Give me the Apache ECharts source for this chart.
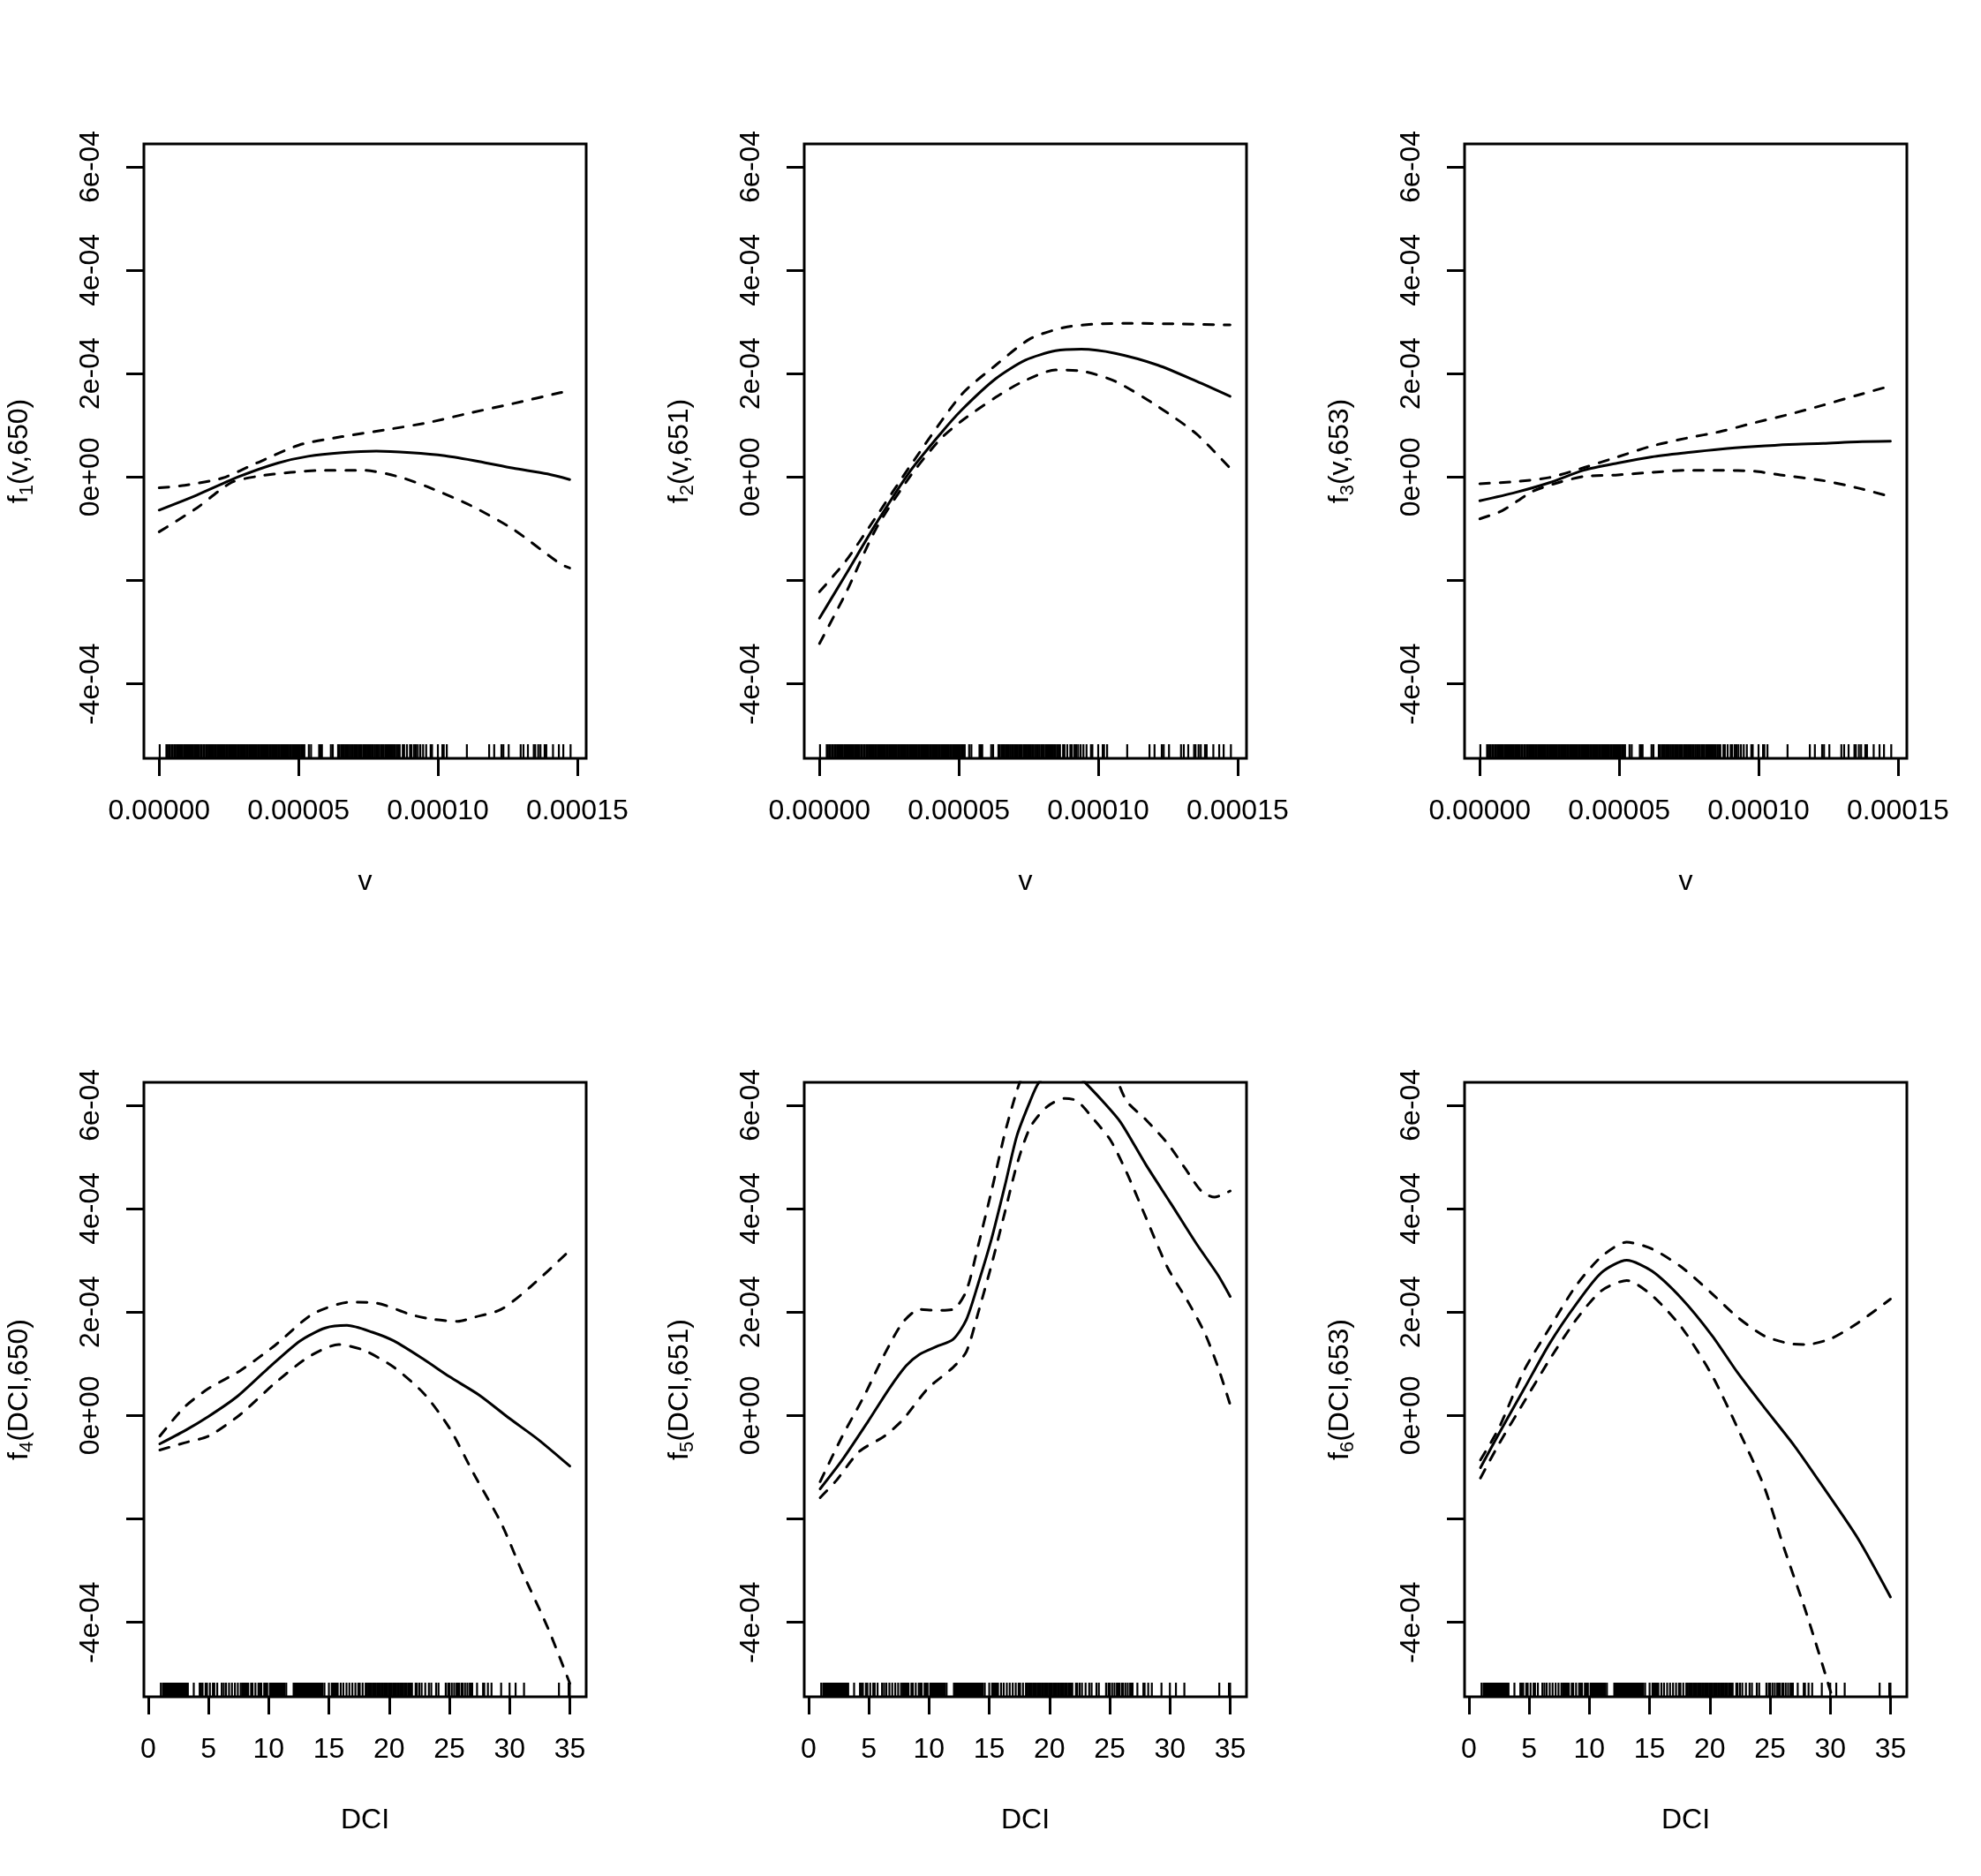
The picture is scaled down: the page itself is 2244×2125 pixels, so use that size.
<!DOCTYPE html>
<html>
<head>
<meta charset="utf-8">
<script src="https://cdn.jsdelivr.net/npm/echarts@6/dist/echarts.min.js"></script>
<style>
html,body{margin:0;padding:0;background:#fff;}
#main{width:2244px;height:2125px;}
</style>
</head>
<body>
<div id="main"></div>
<script>
// axis settings
var Y_MIN = -5.44e-4, Y_MAX = 6.44e-4;
var yTicks = [-4e-4, -2e-4, 0, 2e-4, 4e-4, 6e-4];
var yLabels = [-4e-4, 0, 2e-4, 4e-4, 6e-4];
var vTicks = [0, 5e-5, 1e-4, 1.5e-4];
var dciTicks = [0, 5, 10, 15, 20, 25, 30, 35];
var vRange = [-5.47e-6, 1.532e-4];
var dciRange = [-0.36, 36.36];

// rug of observed v (units of 1e-6)
var vRug = [0.2,
  2.6,3.0,3.5,3.9,4.5,4.8,5.4,5.7,6.3,6.6,7.2,7.5,8.1,8.4,9.0,9.4,9.9,10.4,10.8,11.3,11.7,12.2,12.7,13.1,13.5,
  14.1,14.4,15.0,15.3,15.9,16.2,16.8,17.2,17.7,18.1,18.6,19.0,19.5,20.0,20.4,20.9,21.3,21.8,22.2,22.7,23.2,23.6,
  24.1,24.5,25.0,25.4,25.9,26.3,26.8,27.3,27.7,28.2,28.6,29.1,29.5,30.0,30.5,30.9,31.4,31.8,32.3,32.7,33.2,33.6,
  34.1,34.6,35.0,35.5,35.9,36.4,36.8,37.3,37.8,38.2,38.7,39.1,39.6,40.0,40.5,40.9,41.4,41.9,42.3,42.8,43.2,43.7,
  44.1,44.6,45.1,45.5,46.0,46.4,46.9,47.3,47.8,48.2,48.7,49.2,49.6,50.1,50.5,51.0,51.4,51.9,
  52.1,53.7,54.5,57.4,57.9,58.4,61.6,62.3,64.2,64.7,65.3,65.8,66.3,66.8,67.4,67.9,68.4,69.0,69.5,70.0,70.5,71.1,
  71.6,72.1,72.6,73.2,73.7,74.2,74.7,75.3,75.8,76.3,76.8,77.4,77.9,78.4,78.9,79.5,80.0,80.5,81.1,81.6,82.1,82.6,
  83.2,83.7,84.2,84.7,85.3,85.8,86.3,87.4,87.9,88.9,90.0,90.5,91.4,92.1,92.8,93.7,94.7,95.8,97.4,97.9,100.0,
  101.6,102.1,103.2,110.4,118.4,120.2,122.8,123.5,125.4,129.7,130.7,132.3,134.4,134.9,136.0,136.8,138.3,138.9,
  141.3,143.4,145.0,147.6];

// rug of observed DCI
var dciRug = [1.05,
  1.22,1.3,1.38,1.46,1.54,1.62,1.7,1.78,1.86,1.94,2.02,2.1,2.18,2.26,2.34,2.42,2.5,2.58,2.66,2.74,2.82,2.9,2.98,
  3.06,3.14,3.22,3.29,3.78,4.27,4.39,4.51,4.76,4.88,5.12,5.37,5.49,5.73,6.1,6.27,6.46,6.71,6.95,7.2,7.44,7.68,
  7.8,7.88,7.96,8.04,8.12,8.2,8.3,8.54,8.66,8.9,9.15,9.27,9.39,9.63,9.76,9.88,
  10.1,10.18,10.26,10.34,10.42,10.5,10.58,10.66,10.74,10.82,10.9,10.98,11.06,11.14,11.22,11.3,11.46,
  12.07,12.15,12.23,12.31,12.39,12.47,12.55,12.63,12.71,12.79,12.87,12.95,13.03,13.11,13.19,13.27,13.35,13.43,
  13.51,13.59,13.67,13.75,13.83,13.91,13.99,14.07,14.15,14.23,14.31,14.39,14.47,14.63,15.0,
  15.24,15.32,15.4,15.48,15.56,15.64,15.73,15.98,16.2,16.46,16.7,16.95,17.2,17.44,17.56,17.8,18.05,
  18.17,18.29,18.41,18.53,18.65,18.77,18.89,19.01,19.13,19.25,19.37,19.49,19.61,19.73,19.85,19.97,20.09,20.21,
  20.33,20.45,20.57,20.69,20.81,20.93,21.05,21.17,21.29,21.41,21.57,21.7,21.8,21.9,22.2,22.3,22.5,22.7,23.0,
  23.3,23.5,23.9,24.1,24.7,24.9,25.0,25.2,25.4,25.6,25.7,25.8,26.0,26.1,26.3,26.5,26.7,26.8,26.9,27.3,27.8,
  27.9,28.2,28.5,29.3,30.0,30.5,31.2,34.1,34.9,35.0];

// fitted smooths and bands: [x, y]; x in 1e-6 (v) or DCI, y in 1e-4
var f1Fit = [[0,-0.64],[13.5,-0.35],[28.8,0.01],[42.6,0.27],[53.4,0.40],[65.6,0.47],[77.9,0.50],[90.2,0.47],
  [102.5,0.41],[114.7,0.30],[127,0.17],[139.3,0.06],[147.3,-0.05]];
var f1Up = [[0,-0.21],[9.2,-0.16],[22.7,-0.02],[35,0.27],[50.3,0.62],[65.6,0.78],[81,0.91],[96.3,1.05],
  [111.7,1.24],[127,1.42],[143.9,1.63],[147.3,1.67]];
var f1Lo = [[0,-1.06],[13.5,-0.60],[25.8,-0.11],[35,0.01],[47.2,0.09],[59.5,0.13],[73.3,0.13],[85.6,0.01],
  [96.3,-0.19],[111.7,-0.55],[127,-1.01],[143.9,-1.68],[147.3,-1.76]];

var f2Fit = [[0,-2.73],[9.5,-1.88],[20.2,-0.91],[32.5,0.11],[43.3,0.83],[50.9,1.29],[63.2,1.90],[73.9,2.26],
  [84.7,2.44],[93.9,2.47],[106.1,2.39],[121.5,2.16],[135.3,1.85],[147.3,1.56]];
var f2Up = [[0,-2.22],[9.5,-1.62],[20.2,-0.78],[32.5,0.21],[50.9,1.59],[63.2,2.16],[75.5,2.67],[87.7,2.89],
  [100,2.96],[112.3,2.97],[127.6,2.96],[147.3,2.94]];
var f2Lo = [[0,-3.22],[9.5,-2.24],[20.2,-1.01],[32.5,0.01],[43.3,0.73],[50.9,1.08],[63.2,1.54],[72.4,1.83],
  [84.7,2.07],[93.9,2.05],[106.1,1.85],[121.5,1.36],[135.3,0.83],[147.3,0.17]];

var f3Fit = [[0,-0.46],[12.7,-0.30],[25,-0.11],[37.3,0.13],[49.5,0.27],[61.8,0.39],[74.1,0.47],[86.4,0.54],
  [98.6,0.59],[110.9,0.63],[123.2,0.65],[135.4,0.68],[147.3,0.69]];
var f3Up = [[0,-0.13],[12.7,-0.09],[25,-0.01],[37.3,0.18],[49.5,0.39],[61.8,0.60],[74.1,0.75],[86.4,0.88],
  [98.6,1.05],[110.9,1.21],[123.2,1.39],[135.4,1.58],[147.3,1.76]];
var f3Lo = [[0,-0.81],[8.1,-0.65],[18.9,-0.28],[28.1,-0.11],[37.3,0.01],[49.5,0.04],[61.8,0.09],[74.1,0.13],
  [86.4,0.13],[98.6,0.11],[107.8,0.04],[123.2,-0.07],[135.4,-0.21],[147.3,-0.38]];

var f4Fit = [[0.96,-0.55],[3,-0.30],[5,-0.02],[7.3,0.35],[9.9,0.90],[12.6,1.44],[14.7,1.69],[16.5,1.74],
  [18.6,1.61],[20.4,1.44],[22.9,1.08],[25,0.75],[27.5,0.39],[30,-0.06],[32.4,-0.47],[35,-0.98]];
var f4Up = [[0.96,-0.40],[3,0.16],[5,0.52],[7.6,0.86],[10.5,1.35],[13.65,1.96],[16.8,2.19],[19,2.17],
  [21.8,1.95],[23.6,1.86],[25.7,1.82],[27.1,1.90],[29.3,2.05],[31.7,2.48],[35,3.19]];
var f4Lo = [[0.96,-0.67],[3,-0.53],[5,-0.40],[7.6,0.01],[10.5,0.62],[13.3,1.13],[15.8,1.37],[17.9,1.26],
  [20.4,0.93],[22.9,0.42],[25,-0.24],[27.1,-1.16],[29.3,-2.08],[31,-3.00],[33.2,-4.12],[35,-5.18]];

var f5Fit = [[0.96,-1.42],[2.8,-0.86],[4.93,-0.12],[6.7,0.52],[8.1,0.96],[9.2,1.18],[10.6,1.33],[12,1.47],
  [13.1,1.85],[14.1,2.56],[15.2,3.42],[16.3,4.44],[17.3,5.41],[18.4,6.08],[19.1,6.43],[21,6.9],[22.9,6.45],
  [24.4,6.08],[25.9,5.67],[28,4.85],[30.1,4.09],[32.2,3.32],[34,2.71],[35,2.30]];
var f5Up = [[0.96,-1.28],[2.8,-0.40],[4.6,0.37],[6.3,1.18],[7.8,1.79],[9.2,2.05],[10.6,2.03],[12,2.05],
  [13.1,2.41],[14.1,3.3],[15.2,4.35],[16.3,5.46],[17.3,6.28],[18,6.7],[21.5,8.0],[25.2,6.7],[26.4,6.08],
  [28,5.72],[29.8,5.26],[31.2,4.8],[32.6,4.34],[33.7,4.22],[35,4.34]];
var f5Lo = [[0.96,-1.59],[2.3,-1.26],[4.2,-0.70],[6.3,-0.40],[7.8,-0.09],[9.9,0.52],[12,0.93],[13.1,1.23],
  [14.1,2.0],[15.2,2.92],[16.3,3.93],[17.3,4.85],[18.4,5.57],[19.8,5.97],[21.3,6.13],[22.3,6.08],[23.7,5.72],
  [25.1,5.31],[26.5,4.65],[28,3.83],[29.8,2.86],[31.5,2.20],[32.9,1.59],[34,0.93],[35,0.21]];

var f6Fit = [[0.96,-1.01],[2.5,-0.35],[4.6,0.52],[6.7,1.39],[8.9,2.15],[11,2.76],[13.1,3.0],[15.2,2.79],
  [17.7,2.25],[20.2,1.54],[22.3,0.83],[24.5,0.16],[27,-0.58],[29.4,-1.38],[32.3,-2.38],[35,-3.51]];
var f6Up = [[0.96,-0.86],[2.5,-0.24],[4.6,0.88],[6.7,1.69],[8.9,2.51],[11,3.07],[13.1,3.35],[15.2,3.22],
  [17.7,2.86],[20.2,2.35],[22.3,1.90],[24.5,1.54],[26.6,1.39],[28,1.37],[30.1,1.49],[32.3,1.79],[35,2.25]];
var f6Lo = [[0.96,-1.21],[2.5,-0.55],[4.6,0.27],[6.7,1.08],[8.9,1.85],[11,2.41],[13.1,2.61],[15.2,2.32],
  [17.7,1.69],[20.2,0.77],[22.3,-0.24],[24.5,-1.37],[26.2,-2.59],[28,-3.81],[30.1,-5.4],[31,-6.2]];

var panels = [
  {ylab: 'f{s|1}(v,650)', xlab: 'v', fit: f1Fit, up: f1Up, lo: f1Lo},
  {ylab: 'f{s|2}(v,651)', xlab: 'v', fit: f2Fit, up: f2Up, lo: f2Lo},
  {ylab: 'f{s|3}(v,653)', xlab: 'v', fit: f3Fit, up: f3Up, lo: f3Lo},
  {ylab: 'f{s|4}(DCI,650)', xlab: 'DCI', fit: f4Fit, up: f4Up, lo: f4Lo},
  {ylab: 'f{s|5}(DCI,651)', xlab: 'DCI', fit: f5Fit, up: f5Up, lo: f5Lo},
  {ylab: 'f{s|6}(DCI,653)', xlab: 'DCI', fit: f6Fit, up: f6Up, lo: f6Lo}
];

var FONT = '"Liberation Sans", Arial, sans-serif';

function expLabel(v) {
  // R style: 2e-04, 0e+00
  return v.toExponential().replace(/e([+-])(\d)$/, 'e$10$2');
}

function curve(pts, sx, gi, dash) {
  return {
    type: 'line', xAxisIndex: gi, yAxisIndex: gi, silent: true,
    data: pts.map(function (d) { return [d[0] * sx, d[1] * 1e-4]; }),
    showSymbol: false, smooth: 0.25, clip: true,
    lineStyle: {color: '#000', width: 3, type: dash, cap: 'round', join: 'round'}
  };
}

function rug(vals, sx, gi) {
  return {
    type: 'custom', xAxisIndex: gi, yAxisIndex: gi, silent: true,
    data: vals.map(function (v) { return [v * sx, Y_MIN]; }),
    renderItem: function (params, api) {
      var p = api.coord([api.value(0), Y_MIN]);
      return {
        type: 'line',
        shape: {x1: p[0], y1: p[1], x2: p[0], y2: p[1] - 16},
        style: {stroke: '#000', lineWidth: 2.2}
      };
    }
  };
}

var grids = [], xAxes = [], yAxes = [], series = [];
panels.forEach(function (p, i) {
  var col = i % 3, row = Math.floor(i / 3);
  var isV = p.xlab === 'v';
  var sx = isV ? 1e-6 : 1;
  var ticks = isV ? vTicks : dciTicks;
  var range = isV ? vRange : dciRange;

  grids.push({
    left: 163 + col * 748, top: row ? 1226 : 163, width: 501, height: 696,
    show: true, borderColor: '#000', borderWidth: 3, backgroundColor: 'rgba(0,0,0,0)'
  });
  xAxes.push({
    gridIndex: i, type: 'value', min: range[0], max: range[1],
    name: p.xlab, nameLocation: 'middle', nameGap: 124,
    nameTextStyle: {fontSize: 32, color: '#000', fontFamily: FONT},
    axisLine: {show: false, onZero: false}, splitLine: {show: false},
    axisTick: {show: true, length: 20, customValues: ticks, lineStyle: {color: '#000', width: 3}},
    axisLabel: {
      customValues: ticks, fontSize: 32, color: '#000', fontFamily: FONT, margin: 44,
      formatter: function (v) { return isV ? v.toFixed(5) : String(v); }
    }
  });
  yAxes.push({
    gridIndex: i, type: 'value', min: Y_MIN, max: Y_MAX,
    name: p.ylab, nameLocation: 'middle', nameGap: 121, nameRotate: 90,
    nameTextStyle: {
      fontSize: 32, lineHeight: 40, color: '#000', fontFamily: FONT,
      rich: {s: {fontSize: 22, lineHeight: 22, verticalAlign: 'bottom', color: '#000', fontFamily: FONT}}
    },
    axisLine: {show: false, onZero: false}, splitLine: {show: false},
    axisTick: {show: true, length: 20, customValues: yTicks, lineStyle: {color: '#000', width: 3}},
    axisLabel: {
      customValues: yLabels, rotate: 90, fontSize: 32, color: '#000', fontFamily: FONT, margin: 44,
      formatter: expLabel
    }
  });

  series.push(curve(p.fit, sx, i, 'solid'));
  series.push(curve(p.up, sx, i, [11, 12]));
  series.push(curve(p.lo, sx, i, [11, 12]));
  series.push(rug(isV ? vRug : dciRug, sx, i));
});

var chart = echarts.init(document.getElementById('main'));
chart.setOption({
  backgroundColor: '#fff',
  animation: false,
  textStyle: {fontFamily: FONT},
  grid: grids,
  xAxis: xAxes,
  yAxis: yAxes,
  series: series
});
</script>
</body>
</html>
